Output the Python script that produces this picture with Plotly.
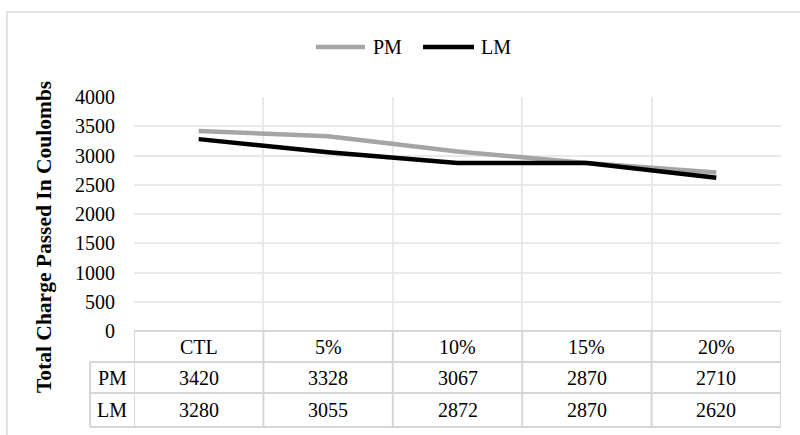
import plotly.graph_objects as go

categories = ["CTL", "5%", "10%", "15%", "20%"]
series_names = ["PM", "LM"]
pm_values = [3420, 3328, 3067, 2870, 2710]
lm_values = [3280, 3055, 2872, 2870, 2620]
y_title = "Total Charge Passed In Coulombs"

series_values = [pm_values, lm_values]
series_colors = ["#a5a5a5", "#000000"]

W, H = 800, 435
L, R, T, B = 134, 19, 97, 104
PW, PH = W - L - R, H - T - B

def px(x):
    return (x - L) / PW

def py(y):
    return (H - B - y) / PH

FONT = "Liberation Serif, Times New Roman, serif"
GRID = "#e9e9e9"
TLINE = "#d6d6d6"

fig = go.Figure()
for name, vals, col in zip(series_names, series_values, series_colors):
    fig.add_trace(go.Scatter(x=categories, y=vals, mode="lines", name=name,
                             line=dict(color=col, width=4.5), showlegend=False))

shapes = []
annotations = []

# outer chart border
shapes.append(dict(type="rect", xref="paper", yref="paper", x0=px(7), x1=px(806),
                   y0=py(441), y1=py(12), line=dict(color="#d9d9d9", width=1.5),
                   fillcolor="rgba(0,0,0,0)", layer="below"))

# data table
row_tops = [331, 362, 393, 427]
n = len(categories)
shapes.append(dict(type="line", xref="x", yref="paper", x0=-0.5, x1=n - 0.5,
                   y0=py(row_tops[0]), y1=py(row_tops[0]), line=dict(color=TLINE, width=2)))
for yy in row_tops[1:]:
    shapes.append(dict(type="line", xref="paper", yref="paper", x0=px(90), x1=1,
                       y0=py(yy), y1=py(yy), line=dict(color=TLINE, width=2)))
for i in range(n + 1):
    shapes.append(dict(type="line", xref="x", yref="paper", x0=i - 0.5, x1=i - 0.5,
                       y0=py(row_tops[0]), y1=py(row_tops[-1]), line=dict(color=TLINE, width=2)))
shapes.append(dict(type="line", xref="paper", yref="paper", x0=px(90), x1=px(90),
                   y0=py(row_tops[1]), y1=py(row_tops[-1]), line=dict(color=TLINE, width=2)))

txt_font = dict(family=FONT, size=20, color="#000000")
for i, c in enumerate(categories):
    annotations.append(dict(x=i, y=py((row_tops[0] + row_tops[1]) / 2), xref="x", yref="paper",
                            text=c, showarrow=False, font=txt_font, xanchor="center", yanchor="middle"))
for r, (name, vals) in enumerate(zip(series_names, series_values)):
    yc = py((row_tops[r + 1] + row_tops[r + 2]) / 2)
    annotations.append(dict(x=px(112), y=yc, xref="paper", yref="paper", text=name,
                            showarrow=False, font=txt_font, xanchor="center", yanchor="middle"))
    for i, v in enumerate(vals):
        annotations.append(dict(x=i, y=yc, xref="x", yref="paper", text=str(v),
                                showarrow=False, font=txt_font, xanchor="center", yanchor="middle"))

# legend (custom)
leg_pos = [(316, 365, 371), (423, 474, 479)]
for (x0, x1, xt), name, col in zip(leg_pos, series_names, series_colors):
    shapes.append(dict(type="line", xref="paper", yref="paper", x0=px(x0), x1=px(x1),
                       y0=py(47), y1=py(47), line=dict(color=col, width=4.5)))
    annotations.append(dict(x=px(xt), y=py(47), xref="paper", yref="paper", text=name,
                            showarrow=False, font=txt_font, xanchor="left", yanchor="middle"))

# y title
annotations.append(dict(x=px(44), y=py(237), xref="paper", yref="paper", text="<b>" + y_title + "</b>",
                        textangle=-90, showarrow=False,
                        font=dict(family=FONT, size=21.5, color="#000000"),
                        xanchor="center", yanchor="middle"))

fig.update_layout(
    width=W, height=H,
    margin=dict(l=L, r=R, t=T, b=B, autoexpand=False),
    paper_bgcolor="white", plot_bgcolor="white",
    showlegend=False,
    shapes=shapes, annotations=annotations,
    xaxis=dict(type="category", range=[-0.5, n - 0.5], tickson="boundaries",
               showgrid=True, gridcolor=GRID, gridwidth=1.5, showticklabels=False,
               ticks="", zeroline=False, showline=False, fixedrange=True),
    yaxis=dict(range=[0, 4000], dtick=500, showgrid=True, gridcolor=GRID, gridwidth=1.5,
               zeroline=False, showline=False, ticks="",
               tickfont=dict(family=FONT, size=20, color="#000000"),
               ticklabelstandoff=18, fixedrange=True),
)

fig.write_html("out.html", config={"displayModeBar": False},
               post_script="document.body.style.margin='0';")
